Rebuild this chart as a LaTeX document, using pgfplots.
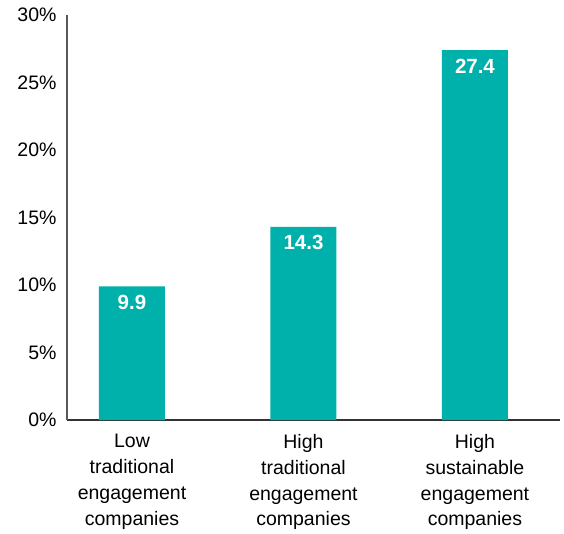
\documentclass[border=0pt]{standalone}
\usepackage{pgfplots}
\pgfplotsset{compat=1.18}
\usepackage{fontspec}
\setmainfont{Liberation Sans}
\definecolor{teal}{HTML}{00B0AA}
\definecolor{yaxisgray}{HTML}{595959}

\begin{document}
\begin{tikzpicture}
\begin{axis}[
    scale only axis,
    width=493pt,
    height=405pt,
    ymin=0, ymax=30,
    xmin=-0.379, xmax=2.496,
    axis x line=bottom,
    axis y line=left,
    x axis line style={-, draw=black!80, line width=1.4pt},
    y axis line style={-, draw=yaxisgray, line width=1.4pt},
    major tick length=0pt,
    ytick={0,5,10,15,20,25,30},
    yticklabels={0\%,5\%,10\%,15\%,20\%,25\%,30\%},
    yticklabel style={font=\fontsize{19.5}{22}\selectfont, xshift=-7pt},
    xtick=data,
    xticklabels={Low\\traditional\\engagement\\companies,
                 High\\traditional\\engagement\\companies,
                 High\\sustainable\\engagement\\companies},
    xticklabel style={align=center, font=\fontsize{19.5}{25.7}\selectfont, yshift=-11pt},
    ybar,
    bar width=66pt,
    nodes near coords={\pgfmathprintnumber[fixed, precision=1, assume math mode=true]{\pgfplotspointmeta}},
    every node near coord/.append style={anchor=center, yshift=-16pt,
        font=\fontsize{20.5}{24}\selectfont\bfseries, text=white},
    clip=false,
]
\addplot[fill=teal, draw=none] coordinates {(0,9.9) (1,14.3) (2,27.4)};
\end{axis}
\path[use as bounding box] (-67pt,-111pt) rectangle (497pt,420pt);
\end{tikzpicture}
\end{document}
